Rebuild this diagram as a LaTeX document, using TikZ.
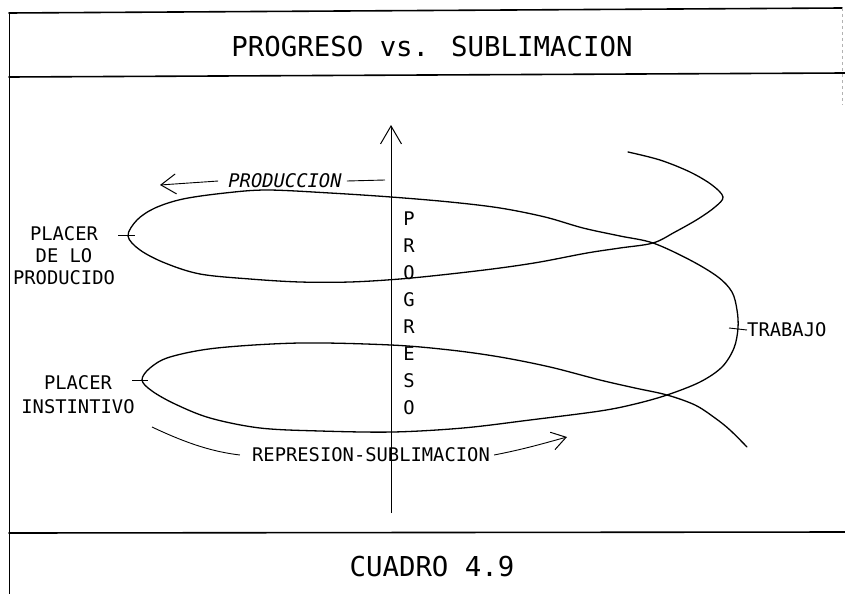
\documentclass[tikz,border=0pt]{standalone}
\usepackage{fontspec}
\usetikzlibrary{arrows.meta}
\newfontfamily\plotfont{DejaVu Sans Mono}
\tikzset{
  frameline/.style={line width=1.6pt, line cap=round},
  curve/.style={line width=1.3pt, line join=round, line cap=round},
  axisline/.style={line width=0.9pt},
  lbl/.style={font=\plotfont\fontsize{18.8}{22}\selectfont, inner sep=0pt, align=center},
  ttl/.style={font=\plotfont\fontsize{27.4}{30}\selectfont, inner sep=0pt},
  barb/.style={-{Straight Barb[length=15pt,width=20pt,line width=1pt]}},
}
\begin{document}
\begin{tikzpicture}[x=1pt,y=-1pt]
\useasboundingbox (0,0) rectangle (845,594);
% frame
\draw[frameline] (9,13) -- (842,8);
\draw[frameline] (9,77) -- (845,73);
\draw[frameline] (9,533) -- (845,532);
\draw[line width=1pt] (9,13) -- (9,594);
\draw[gray!60, dashed, line width=0.8pt] (842,8) -- (842,105);
% titles
\node[ttl] (title) at (432,47) {PROGRESO vs. SUBLIMACION};
\node[ttl] (footer) at (432,567) {CUADRO 4.9};
% axis
\coordinate (axbot) at (391,513);
\coordinate (axtop) at (391,125);
\draw[axisline, -{Straight Barb[length=18pt,width=21pt,line width=1pt]}] (axbot) -- (axtop);
\node[lbl, font=\plotfont\fontsize{18.8}{27}\selectfont] (progreso) at (409,313) {P\\R\\O\\G\\R\\E\\S\\O};
% spiral
\draw[curve] plot[smooth, tension=0.55] coordinates {
(628,152) (660,160) (690,172) (712,185) (723,197) (715,207) (698,219) (675,232)
(653,243) (620,248) (587,253) (540,262) (500,268) (450,274) (400,279) (350,282)
(300,282) (250,279) (200,274) (165,263) (140,250) (128,236) (137,220) (155,208)
(183,199) (225,193) (267,190) (330,193) (391,197) (450,202) (500,208) (545,217)
(583,228) (620,236) (653,243) (690,260) (718,277) (732,292) (737,310) (738,328)
(734,348) (722,367) (700,382) (667,395) (635,404) (600,411) (530,420) (463,428)
(393,432) (320,431) (260,428) (210,418) (175,404) (152,391) (142,380) (150,368)
(170,357) (217,348) (300,343) (391,345) (450,350) (500,357) (550,367) (600,380)
(635,388) (667,395) (695,405) (715,418) (730,430) (747,447)};
% PRODUCCION
\node[lbl, font=\plotfont\itshape\fontsize{18.8}{22}\selectfont] (prod) at (285,181) {PRODUCCION};
\coordinate (prodtip) at (160,185);
\coordinate (prodr) at (385,180);
\draw[axisline, barb] ([xshift=-10pt]prod.west) -- (prodtip);
\draw[axisline] ([xshift=5pt]prod.east) -- (prodr);
% left labels
\node[lbl] (placer1) at (64,256) {PLACER\\DE LO\\PRODUCIDO};
\draw[axisline] (118,235) -- (135,235);
\node[lbl, font=\plotfont\fontsize{18.8}{24}\selectfont] (placer2) at (78,395) {PLACER\\INSTINTIVO};
\draw[axisline] (132,380) -- (148,380);
% TRABAJO
\node[lbl, anchor=west] (trabajo) at (747,330) {TRABAJO};
\draw[axisline] (729,328) -- (trabajo.west);
% REPRESION-SUBLIMACION
\node[lbl] (repsub) at (371,455) {REPRESION-SUBLIMACION};
\coordinate (repstart) at (152,427);
\coordinate (reptip) at (567,437);
\draw[axisline] (repstart) .. controls (190,445) and (215,452) .. ([xshift=-12pt]repsub.west);
\draw[axisline, -{Straight Barb[length=14pt,width=18pt,line width=1pt]}] ([xshift=4pt]repsub.east) .. controls (525,449) and (545,443) .. (reptip);
\end{tikzpicture}
\end{document}
